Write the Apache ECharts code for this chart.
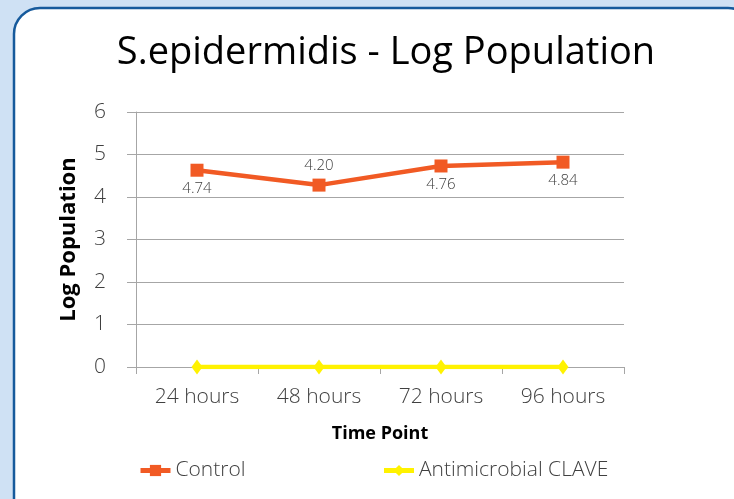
<!DOCTYPE html>
<html>
<head>
<meta charset="utf-8">
<script src="https://cdn.jsdelivr.net/npm/echarts@6/dist/echarts.min.js"></script>
<style>
  html, body { margin: 0; padding: 0; background: #cfe1f4; }
  #main { width: 734px; height: 499px; }
</style>
</head>
<body>
<div id="main"></div>
<script>
var timePoints = ['24 hours', '48 hours', '72 hours', '96 hours'];
var controlData = [4.63, 4.28, 4.73, 4.82];        // plotted positions
var controlLabels = ['4.74', '4.20', '4.76', '4.84']; // printed labels
var clavedata = [0, 0, 0, 0];
var labelPos = ['bottom', 'top', 'bottom', 'bottom'];

var chart = echarts.init(document.getElementById('main'));
var txt = '#404040';
var font = '"Open Sans", sans-serif';

var controlPoints = controlData.map(function (v, i) {
    return {
        value: v,
        label: { position: labelPos[i], formatter: controlLabels[i] }
    };
});

var option = {
    backgroundColor: '#cfe1f4',
    graphic: [{
        type: 'rect',
        z: -10,
        shape: { x: 14, y: 8, width: 740, height: 540, r: 26 },
        style: { fill: '#ffffff', stroke: '#165a9c', lineWidth: 2.5 }
    }],
    title: {
        text: 'S.epidermidis - Log Population',
        left: 381,
        textAlign: 'center',
        top: 29,
        textStyle: { fontFamily: font, fontSize: 38, fontWeight: 'normal', color: '#000' }
    },
    legend: {
        left: 133,
        top: 455,
        itemWidth: 30,
        itemHeight: 14,
        itemGap: 136,
        lineStyle: { width: 5 },
        textStyle: { fontFamily: font, fontSize: 21, color: txt, fontWeight: 300 },
        data: ['Control', 'Antimicrobial CLAVE']
    },
    grid: { left: 136, right: 110, top: 112, bottom: 132 },
    xAxis: {
        type: 'category',
        data: timePoints,
        name: 'Time Point',
        nameLocation: 'middle',
        nameGap: 58,
        nameTextStyle: { fontFamily: font, fontSize: 18, fontWeight: 'bold', color: '#000' },
        axisLine: { lineStyle: { color: '#a6a6a6', width: 1 } },
        axisTick: { show: true, length: 7, lineStyle: { color: '#a6a6a6' } },
        axisLabel: { fontFamily: font, fontSize: 21, color: txt, margin: 20, fontWeight: 300 }
    },
    yAxis: {
        type: 'value',
        min: 0,
        max: 6,
        interval: 1,
        name: 'Log Population',
        nameLocation: 'middle',
        nameGap: 56,
        nameTextStyle: { fontFamily: font, fontSize: 22, fontWeight: 'bold', color: '#000' },
        axisLine: { show: true, lineStyle: { color: '#a6a6a6', width: 1 } },
        axisTick: { show: true, inside: false, length: 9, lineStyle: { color: '#a6a6a6' } },
        axisLabel: { fontFamily: font, fontSize: 21, color: txt, margin: 30, fontWeight: 300 },
        splitLine: { lineStyle: { color: '#a6a6a6', width: 1 } }
    },
    series: [
        {
            name: 'Control',
            type: 'line',
            data: controlPoints,
            symbol: 'rect',
            symbolSize: 13,
            color: '#f15a24',
            lineStyle: { width: 4.5, color: '#f15a24' },
            itemStyle: { color: '#f15a24' },
            label: {
                show: true,
                distance: 5,
                fontFamily: font,
                fontSize: 15,
                color: txt,
                fontWeight: 300
            },
            z: 3
        },
        {
            name: 'Antimicrobial CLAVE',
            type: 'line',
            data: clavedata,
            symbol: 'diamond',
            symbolSize: [11, 15],
            color: '#fff200',
            lineStyle: { width: 4.5, color: '#fff200' },
            itemStyle: { color: '#fff200' },
            z: 4
        }
    ]
};
chart.setOption(option);
</script>
</body>
</html>
